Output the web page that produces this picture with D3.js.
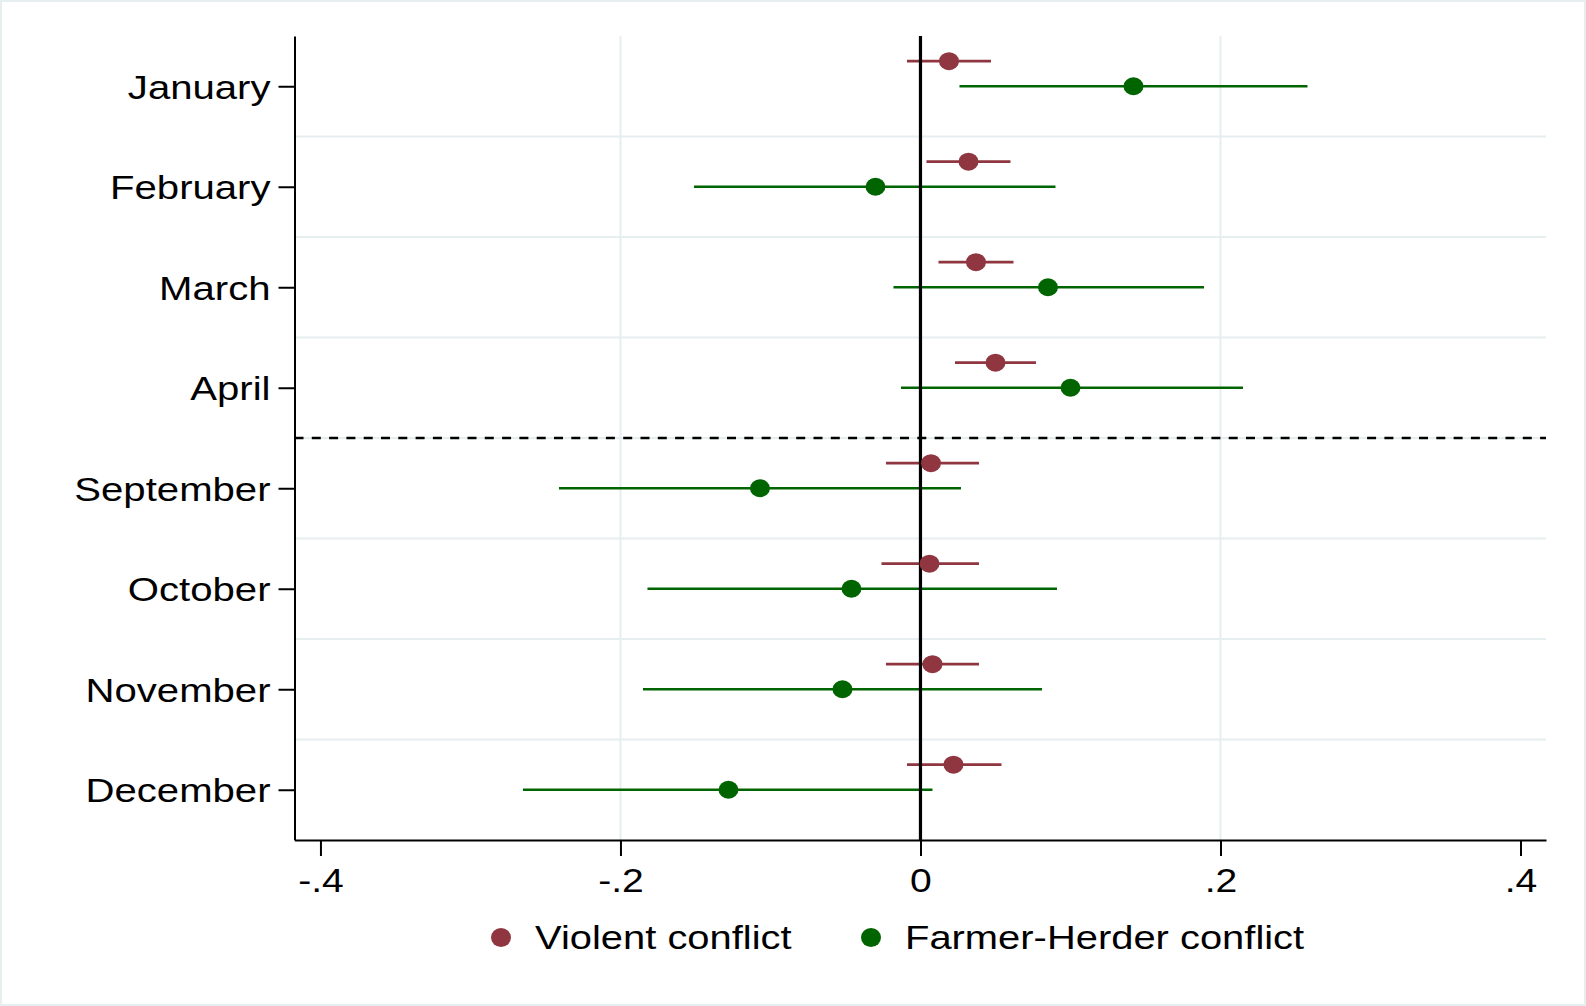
<!DOCTYPE html>
<html>
<head>
<meta charset="utf-8">
<script src="https://cdn.jsdelivr.net/npm/d3@7"></script>
<style>
    body { margin: 0; background: #fff; }
    svg { display: block; }
    text { font-family: "Liberation Sans", Arial, sans-serif; fill: #000; }
</style>
</head>
<body>
<div id="svg_div"><svg width="1586" height="1006"></svg></div>
<script>
// Coefficients and 95% CIs
var months = ["January", "February", "March", "April", "September", "October", "November", "December"];
var violentCoef = [0.019, 0.032, 0.037, 0.050, 0.007, 0.006, 0.008, 0.022];
var violentLo   = [-0.009, 0.004, 0.012, 0.023, -0.023, -0.026, -0.023, -0.009];
var violentHi   = [0.047, 0.060, 0.062, 0.077, 0.039, 0.039, 0.039, 0.054];
var farmerCoef  = [0.142, -0.030, 0.085, 0.100, -0.107, -0.046, -0.052, -0.128];
var farmerLo    = [0.026, -0.151, -0.018, -0.013, -0.241, -0.182, -0.185, -0.265];
var farmerHi    = [0.258, 0.090, 0.189, 0.215, 0.027, 0.091, 0.081, 0.008];
var xTicks = [-0.4, -0.2, 0, 0.2, 0.4];
var xTickLabels = ["-.4", "-.2", "0", ".2", ".4"];
var gridTicks = [-0.2, 0.2];
var seriesNames = ["Violent conflict", "Farmer-Herder conflict"];
var seriesColors = ["#8f3640", "#006400"];

var svg = d3.select("#svg_div").select("svg");
var svgWidth = +svg.attr("width");
var svgHeight = +svg.attr("height");

// Plot region
var plotLeft = 294.5, plotRight = 1546, plotTop = 36, plotBottom = 840;
var sx = 1.15; // text is a bit wide in the original

// Outer frame
svg.append("rect")
    .attr("x", 1).attr("y", 1)
    .attr("width", svgWidth - 2).attr("height", svgHeight - 2)
    .attr("fill", "#fff")
    .attr("stroke", "#e6eef0")
    .attr("stroke-width", 2);

var xScale = d3.scaleLinear()
    .domain([-0.4173, 0.417])
    .range([plotLeft, plotRight]);

var yScale = d3.scaleLinear()
    .domain([-0.5, 7.5])
    .range([plotTop, plotBottom]);

var rows = d3.range(months.length);

// Gridlines
var grid = svg.append("g").attr("class", "grid");
grid.selectAll(".hgrid")
    .data(d3.range(0.5, months.length - 1, 1))
    .enter().append("line")
    .attr("x1", plotLeft).attr("x2", plotRight)
    .attr("y1", function(d) { return yScale(d); })
    .attr("y2", function(d) { return yScale(d); })
    .attr("stroke", "#e6eef0")
    .attr("stroke-width", 2);

grid.selectAll(".vgrid")
    .data(gridTicks)
    .enter().append("line")
    .attr("x1", function(d) { return xScale(d); })
    .attr("x2", function(d) { return xScale(d); })
    .attr("y1", plotTop).attr("y2", plotBottom)
    .attr("stroke", "#e6eef0")
    .attr("stroke-width", 2);

// Dashed separator between April and September
svg.append("line")
    .attr("x1", plotLeft).attr("x2", plotRight)
    .attr("y1", yScale(3.5)).attr("y2", yScale(3.5))
    .attr("stroke", "#000")
    .attr("stroke-width", 2.3)
    .attr("stroke-dasharray", "9,8.3");

// Axes
var xAxis = d3.axisBottom(xScale)
    .tickValues(xTicks)
    .tickFormat(function(d, i) { return xTickLabels[i]; })
    .tickSize(16)
    .tickSizeOuter(0);

var xAxisG = svg.append("g")
    .attr("class", "x axis")
    .attr("transform", "translate(0," + plotBottom + ")")
    .call(xAxis);

xAxisG.select(".domain").attr("stroke-width", 2);
xAxisG.selectAll(".tick line").attr("stroke-width", 2);
xAxisG.selectAll(".tick text")
    .attr("y", 52)
    .attr("dy", 0)
    .attr("transform", "scale(" + sx + ",1)")
    .style("font-size", "34px");

var yAxis = d3.axisLeft(yScale)
    .tickValues(rows)
    .tickFormat(function(d) { return months[d]; })
    .tickSize(16)
    .tickSizeOuter(0);

var yAxisG = svg.append("g")
    .attr("class", "y axis")
    .attr("transform", "translate(" + plotLeft + ",0)")
    .call(yAxis);

yAxisG.select(".domain").attr("stroke-width", 2);
yAxisG.selectAll(".tick line").attr("stroke-width", 2);
yAxisG.selectAll(".tick text")
    .attr("x", -24 / 1.18)
    .attr("dy", "0.35em")
    .attr("transform", "scale(1.18,1)")
    .style("font-size", "34px");

svg.selectAll(".axis text").attr("fill", "#000");

// Series: violent sits a quarter row above the month
var series = [
    {name: seriesNames[0], coef: violentCoef, lo: violentLo, hi: violentHi, offset: -0.25, color: seriesColors[0]},
    {name: seriesNames[1], coef: farmerCoef, lo: farmerLo, hi: farmerHi, offset: 0, color: seriesColors[1]}
];

var ciG = svg.append("g").attr("class", "ci");
series.forEach(function(s) {
    ciG.selectAll(null)
        .data(rows)
        .enter().append("line")
        .attr("x1", function(i) { return xScale(s.lo[i]); })
        .attr("x2", function(i) { return xScale(s.hi[i]); })
        .attr("y1", function(i) { return yScale(i + s.offset); })
        .attr("y2", function(i) { return yScale(i + s.offset); })
        .attr("stroke", s.color)
        .attr("stroke-width", 2.7);
});

// Zero reference line
svg.append("line")
    .attr("x1", xScale(0)).attr("x2", xScale(0))
    .attr("y1", plotTop).attr("y2", plotBottom)
    .attr("stroke", "#000")
    .attr("stroke-width", 3.2);

var ptG = svg.append("g").attr("class", "points");
series.forEach(function(s) {
    ptG.selectAll(null)
        .data(rows)
        .enter().append("ellipse")
        .attr("cx", function(i) { return xScale(s.coef[i]); })
        .attr("cy", function(i) { return yScale(i + s.offset); })
        .attr("rx", 10)
        .attr("ry", 9)
        .attr("fill", s.color);
});

// Legend
var legendX = [501, 871];
var legend = svg.selectAll(".legend")
    .data(series)
    .enter().append("g")
    .attr("class", "legend")
    .attr("transform", function(d, i) { return "translate(" + legendX[i] + ",937.5)"; });

legend.append("ellipse")
    .attr("rx", 10).attr("ry", 9.5)
    .attr("fill", function(d) { return d.color; });

legend.append("text")
    .attr("transform", "translate(34,11.5) scale(1.21,1)")
    .style("font-size", "33px")
    .text(function(d) { return d.name; });
</script>
</body>
</html>
